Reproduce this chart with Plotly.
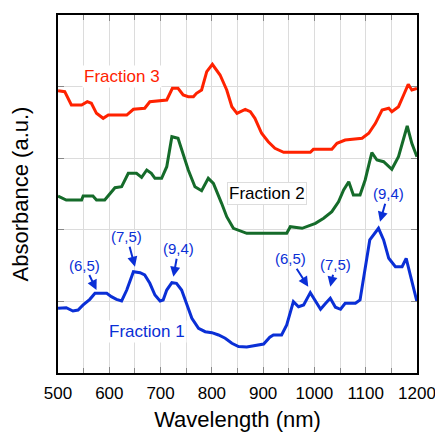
import plotly.graph_objects as go

# Fraction 3 (red)
f3_nm = [500, 513, 526, 546, 557, 565, 575, 588, 598, 634, 647, 669, 679, 712, 723, 734, 744, 754, 764, 770, 780, 790, 801, 816, 829, 839, 849, 865, 875, 884, 897, 910, 923, 940, 992, 998, 1034, 1044, 1060, 1093, 1106, 1119, 1132, 1145, 1151, 1164, 1174, 1183, 1190, 1200]
f3_abs = [3.943, 3.929, 3.743, 3.743, 3.789, 3.767, 3.627, 3.557, 3.603, 3.603, 3.683, 3.697, 3.789, 3.813, 3.976, 3.976, 3.883, 3.859, 3.859, 3.906, 3.953, 4.208, 4.311, 4.162, 3.953, 3.719, 3.627, 3.683, 3.649, 3.557, 3.348, 3.230, 3.138, 3.082, 3.082, 3.124, 3.124, 3.208, 3.254, 3.278, 3.348, 3.487, 3.673, 3.697, 3.649, 3.719, 3.883, 4.032, 3.953, 3.976]

# Fraction 2 (green)
f2_nm = [500, 516, 546, 549, 568, 575, 591, 598, 611, 624, 637, 653, 663, 673, 682, 689, 702, 712, 722, 734, 744, 754, 767, 780, 793, 803, 819, 829, 842, 868, 946, 953, 976, 1002, 1018, 1034, 1047, 1057, 1067, 1076, 1089, 1099, 1112, 1122, 1135, 1151, 1164, 1181, 1190, 1200]
f2_abs = [2.472, 2.416, 2.416, 2.472, 2.472, 2.416, 2.416, 2.472, 2.588, 2.602, 2.789, 2.789, 2.733, 2.835, 2.789, 2.719, 2.719, 2.881, 3.300, 3.278, 3.068, 2.835, 2.602, 2.546, 2.719, 2.649, 2.370, 2.183, 2.021, 1.951, 1.951, 2.043, 2.021, 2.091, 2.161, 2.253, 2.392, 2.556, 2.672, 2.486, 2.486, 2.696, 3.077, 2.975, 2.951, 2.845, 3.021, 3.450, 3.208, 3.021]

# Fraction 1 (blue)
f1_nm = [500, 516, 529, 539, 549, 562, 572, 595, 604, 614, 624, 634, 647, 660, 669, 679, 689, 699, 705, 712, 722, 731, 741, 751, 761, 774, 787, 800, 813, 826, 839, 852, 868, 901, 913, 920, 936, 946, 959, 969, 979, 992, 1002, 1012, 1022, 1031, 1041, 1051, 1060, 1080, 1089, 1099, 1108, 1125, 1135, 1145, 1158, 1171, 1179, 1187, 1200]
f1_abs = [0.904, 0.912, 0.866, 0.880, 0.950, 1.029, 1.113, 1.113, 1.066, 1.029, 1.006, 1.159, 1.415, 1.401, 1.369, 1.253, 1.089, 1.006, 1.020, 1.159, 1.261, 1.253, 1.159, 0.973, 0.764, 0.624, 0.577, 0.563, 0.531, 0.485, 0.415, 0.370, 0.363, 0.405, 0.499, 0.531, 0.531, 0.670, 0.996, 0.926, 0.950, 1.122, 0.996, 0.890, 0.973, 1.043, 0.918, 0.890, 0.973, 0.973, 1.020, 1.439, 1.858, 2.021, 1.858, 1.602, 1.485, 1.485, 1.602, 1.369, 0.996]

# Peak labels (chirality) with arrow tip positions
peak_labels = ["(6,5)", "(7,5)", "(9,4)", "(6,5)", "(7,5)", "(9,4)"]
peak_nm = [575, 650, 725, 988, 1031, 1128]
peak_abs = [1.159, 1.485, 1.345, 1.205, 1.205, 2.113]
peak_ax = [-12, -8, 5, -18, 5, 8]
peak_ay = [-25, -30, -28, -28, -22, -28]

x_ticks = [500, 600, 700, 800, 900, 1000, 1100, 1200]

RED = "#ff2200"
GREEN = "#156b2a"
BLUE = "#0a2fd6"
FONT = "Liberation Sans, Arial, sans-serif"

fig = go.Figure()
fig.add_trace(go.Scatter(x=f3_nm, y=f3_abs, mode="lines", line=dict(color=RED, width=3), hoverinfo="skip"))
fig.add_trace(go.Scatter(x=f2_nm, y=f2_abs, mode="lines", line=dict(color=GREEN, width=3), hoverinfo="skip"))
fig.add_trace(go.Scatter(x=f1_nm, y=f1_abs, mode="lines", line=dict(color=BLUE, width=3), hoverinfo="skip"))

annotations = []
for lab, xx, yy, ax, ay in zip(peak_labels, peak_nm, peak_abs, peak_ax, peak_ay):
    annotations.append(dict(x=xx, y=yy, text=lab, showarrow=True, ax=ax, ay=ay,
                            arrowhead=2, arrowsize=1, arrowwidth=2, arrowcolor=BLUE,
                            font=dict(color=BLUE, size=15, family=FONT)))

annotations.append(dict(x=624, y=4.138, text="Fraction 3", showarrow=False,
                        font=dict(color=RED, size=17, family=FONT), bgcolor="white"))
annotations.append(dict(x=907, y=2.51, text="Fraction 2", showarrow=False,
                        font=dict(color="black", size=17, family=FONT), bgcolor="white",
                        bordercolor="#dddddd", borderwidth=1, borderpad=1))
annotations.append(dict(x=673, y=0.577, text="Fraction 1", showarrow=False,
                        font=dict(color=BLUE, size=17, family=FONT), bgcolor="white"))

fig.update_layout(
    width=435, height=432,
    margin=dict(l=58, r=18, t=15, b=59, autoexpand=False),
    paper_bgcolor="white", plot_bgcolor="white",
    showlegend=False,
    annotations=annotations,
    font=dict(family=FONT, color="black"),
    hovermode=False,
)
fig.update_xaxes(
    range=[499.9, 1200.1], tickvals=x_ticks, ticktext=[str(v) for v in x_ticks],
    showgrid=True, gridcolor="#dcdcdc", gridwidth=1,
    minor=dict(dtick=50, showgrid=True, gridcolor="#dcdcdc", ticks="inside", ticklen=5, tickcolor="#888888"),
    ticks="inside", ticklen=6, tickcolor="#888888",
    showline=True, linecolor="black", linewidth=1.5, mirror="ticks",
    tickfont=dict(size=17, family=FONT), ticklabeloverflow="allow", ticklabelstandoff=4,
    title=dict(text="Wavelength (nm)", font=dict(size=22, family=FONT), standoff=10),
    zeroline=False, automargin=False,
)
fig.update_yaxes(
    range=[0, 5], tickvals=[1, 2, 3, 4], showticklabels=False,
    showgrid=True, gridcolor="#dcdcdc", gridwidth=1,
    ticks="inside", ticklen=6, tickcolor="#888888",
    showline=True, linecolor="black", linewidth=1.5, mirror="ticks",
    title=dict(text="Absorbance (a.u.)", font=dict(size=22, family=FONT), standoff=22),
    zeroline=False, automargin=False,
)

fig.write_html("out.html", config={"displayModeBar": False},
               post_script="document.body.style.margin='0';document.body.style.overflow='hidden';")
